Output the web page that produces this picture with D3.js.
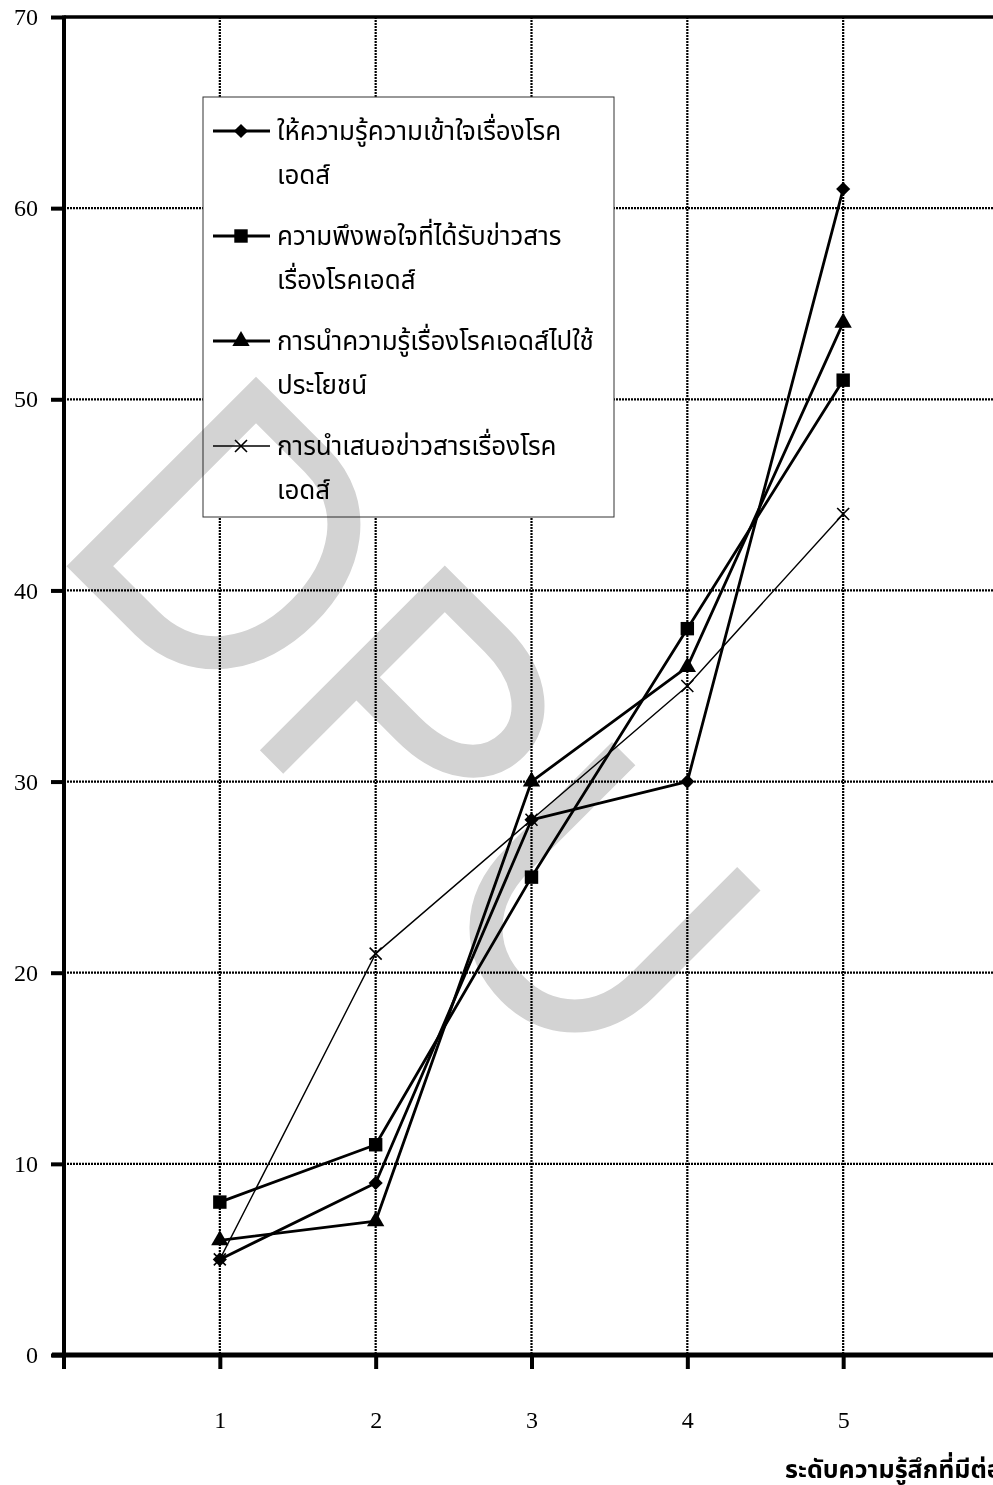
<!DOCTYPE html>
<html>
<head>
<meta charset="utf-8">
<script src="https://cdnjs.cloudflare.com/ajax/libs/d3/7.8.5/d3.min.js"></script>
<style>
  html, body { margin: 0; padding: 0; background: #fff; overflow: hidden; }
  #chart svg { display: block; }
</style>
</head>
<body>
<div id="chart"></div>
<script>
// chart values
const categories = [1, 2, 3, 4, 5];
const seriesNames = [
  ["ให้ความรู้ความเข้าใจเรื่องโรค", "เอดส์"],
  ["ความพึงพอใจที่ได้รับข่าวสาร", "เรื่องโรคเอดส์"],
  ["การนำความรู้เรื่องโรคเอดส์ไปใช้", "ประโยชน์"],
  ["การนำเสนอข่าวสารเรื่องโรค", "เอดส์"]
];
const knowledge = [5, 9, 28, 30, 61];
const satisfaction = [8, 11, 25, 38, 51];
const application = [6, 7, 30, 36, 54];
const presentation = [5, 21, 28, 35, 44];
const yTicks = [0, 10, 20, 30, 40, 50, 60, 70];
const xTitle = "ระดับความรู้สึกที่มีต่อ";

const width = 993, height = 1485;
const thaiFont = "'Noto Sans Thai', 'Noto Serif Thai', 'Loma', 'Garuda', 'Norasi', 'DejaVu Sans', sans-serif";
const numFont = "'Liberation Serif', 'DejaVu Serif', serif";

const svg = d3.select("#chart")
    .append("svg")
    .attr("width", width)
    .attr("height", height);

const xScale = d3.scaleLinear().domain([0, 6]).range([64, 999]);
const yScale = d3.scaleLinear().domain([0, 70]).range([1355, 17]);

// dotted grid
svg.append("g")
    .selectAll("line")
    .data(yTicks.slice(1, -1))
    .enter()
    .append("line")
    .attr("x1", xScale(0)).attr("x2", xScale(6))
    .attr("y1", d => yScale(d)).attr("y2", d => yScale(d))
    .attr("stroke", "#000")
    .attr("stroke-width", 2.2)
    .attr("stroke-dasharray", "2,1");

svg.append("g")
    .selectAll("line")
    .data(categories)
    .enter()
    .append("line")
    .attr("x1", d => xScale(d)).attr("x2", d => xScale(d))
    .attr("y1", yScale(70)).attr("y2", yScale(0))
    .attr("stroke", "#000")
    .attr("stroke-width", 2.2)
    .attr("stroke-dasharray", "2,1");

// top border of plot area
svg.append("line")
    .attr("x1", xScale(0)).attr("x2", xScale(6))
    .attr("y1", yScale(70)).attr("y2", yScale(70))
    .attr("stroke", "#000")
    .attr("stroke-width", 3.5);

// axes
const yAxis = svg.append("g")
    .attr("transform", `translate(${xScale(0)},0)`)
    .call(d3.axisLeft(yScale).tickValues(yTicks).tickSize(13).tickPadding(13));
yAxis.select(".domain").remove();
yAxis.selectAll(".tick line").attr("stroke", "#000").attr("stroke-width", 4);
yAxis.selectAll(".tick text")
    .style("font-family", numFont)
    .style("font-size", "24px")
    .attr("fill", "#000");

const xAxis = svg.append("g")
    .attr("transform", `translate(0,${yScale(0)})`)
    .call(d3.axisBottom(xScale).tickValues(categories).tickSize(14).tickPadding(42).tickFormat(d3.format("d")));
xAxis.select(".domain").remove();
xAxis.selectAll(".tick line").attr("stroke", "#000").attr("stroke-width", 4);
xAxis.selectAll(".tick text")
    .style("font-family", numFont)
    .style("font-size", "24px")
    .attr("fill", "#000");

svg.append("line")
    .attr("x1", xScale(0)).attr("x2", xScale(0))
    .attr("y1", yScale(70) - 1.5).attr("y2", yScale(0) + 14)
    .attr("stroke", "#000")
    .attr("stroke-width", 4);
svg.append("line")
    .attr("x1", xScale(0) - 12).attr("x2", xScale(6))
    .attr("y1", yScale(0)).attr("y2", yScale(0))
    .attr("stroke", "#000")
    .attr("stroke-width", 5);

svg.append("text")
    .attr("x", 785)
    .attr("y", 1478)
    .style("font-family", thaiFont)
    .style("font-size", "25px")
    .style("font-weight", "bold")
    .text(xTitle);

// legend
const legend = svg.append("g");
legend.append("rect")
    .attr("x", 203).attr("y", 97)
    .attr("width", 411).attr("height", 420)
    .attr("fill", "#fff")
    .attr("stroke", "#333")
    .attr("stroke-width", 1);

const markers = [
  { path: d3.symbol().type(d3.symbolSquare).size(100)(), rotate: 45, fill: "#000", stroke: "none" },
  { path: d3.symbol().type(d3.symbolSquare).size(180)(), rotate: 0, fill: "#000", stroke: "none" },
  { path: d3.symbol().type(d3.symbolTriangle).size(130)(), rotate: 0, fill: "#000", stroke: "none" },
  { path: "M-6,-6L6,6M-6,6L6,-6", rotate: 0, fill: "none", stroke: "#000" }
];
const allSeries = [knowledge, satisfaction, application, presentation];
const lineWidths = [2.8, 2.8, 2.8, 1.4];

seriesNames.forEach((name, i) => {
  const cy = 131 + i * 105;
  legend.append("line")
      .attr("x1", 213).attr("x2", 270)
      .attr("y1", cy).attr("y2", cy)
      .attr("stroke", "#000")
      .attr("stroke-width", lineWidths[i]);
  legend.append("path")
      .attr("d", markers[i].path)
      .attr("transform", `translate(241,${cy}) rotate(${markers[i].rotate})`)
      .attr("fill", markers[i].fill)
      .attr("stroke", markers[i].stroke)
      .attr("stroke-width", 1.6);
  name.forEach((part, j) => {
    legend.append("text")
        .attr("x", 277)
        .attr("y", cy + j * 44 + 9)
        .style("font-family", thaiFont)
        .style("font-size", "26px")
        .attr("fill", "#000")
        .text(part);
  });
});

// series lines and markers
const line = d3.line()
    .x((d, i) => xScale(categories[i]))
    .y(d => yScale(d));

allSeries.forEach((values, i) => {
  svg.append("path")
      .datum(values)
      .attr("fill", "none")
      .attr("stroke", "#000")
      .attr("stroke-width", lineWidths[i])
      .attr("stroke-linejoin", "round")
      .attr("d", line);
  svg.append("g")
      .selectAll("path")
      .data(values)
      .enter()
      .append("path")
      .attr("d", markers[i].path)
      .attr("transform", (d, j) => `translate(${xScale(categories[j])},${yScale(d)}) rotate(${markers[i].rotate})`)
      .attr("fill", markers[i].fill)
      .attr("stroke", markers[i].stroke)
      .attr("stroke-width", 1.6);
});

// DPU watermark, drawn upright then turned 45 degrees
const mark = svg.append("g")
    .attr("transform", "translate(256,400) rotate(45)")
    .style("mix-blend-mode", "multiply")
    .attr("fill", "none")
    .attr("stroke", "#d3d3d3")
    .attr("stroke-width", 33)
    .attr("stroke-linejoin", "miter");
mark.append("path")
    .attr("d", "M0,0 L85,0 C150,0 183,55 183,117 C183,180 148,235 80,235 L0,235 Z");
mark.append("path")
    .attr("d", "M267,245 L267,0 L340,0 C395,0 425,30 425,62 C425,98 395,125 340,125 L267,125");
mark.append("path")
    .attr("d", "M510,-10 L510,140 C510,200 548,235 598,235 C648,235 687,200 687,140 L687,-10");
</script>
</body>
</html>
